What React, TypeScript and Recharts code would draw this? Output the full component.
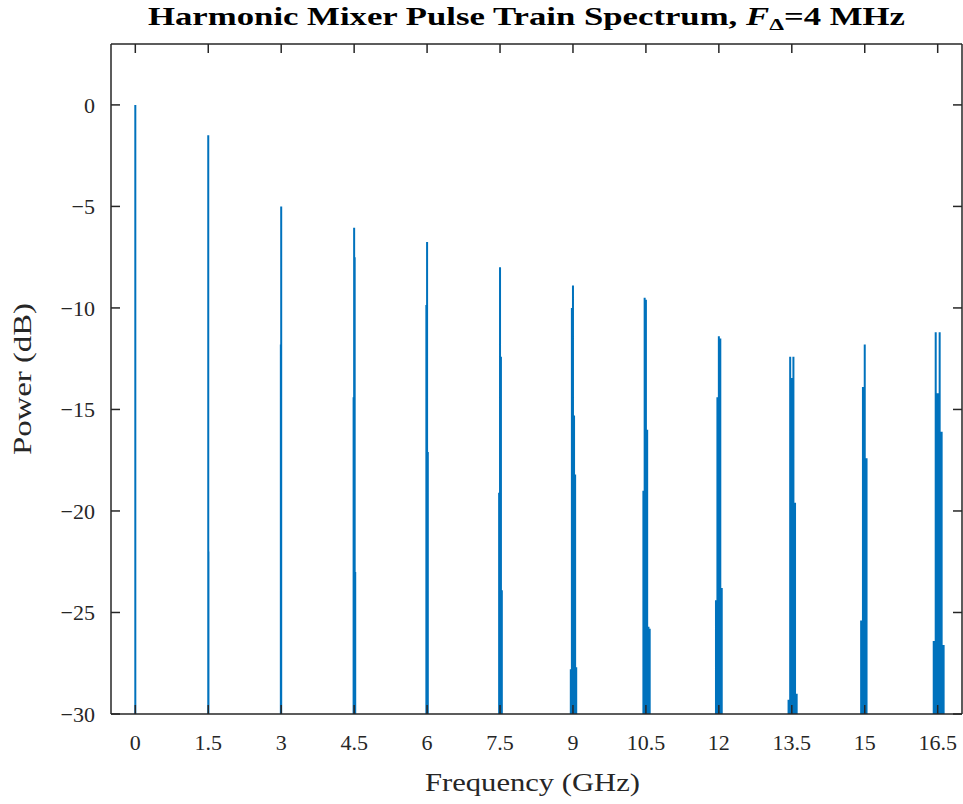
import React from 'react';
import { LineChart, Line, XAxis, YAxis } from 'recharts';

// harmonic centre frequencies (GHz)
const harmonicGHz = [0, 1.5, 3, 4.5, 6, 7.5, 9, 10.5, 12, 13.5, 15, 16.5];
// sideband index k, spaced k * n * step around the n-th harmonic
const sidebandK = [-3, -2, -1, 0, 1, 2, 3];
const sidebandStepMHz = 3.7;

// sideband levels in dB, one value per harmonic (null = below -30 dB)
const levelKm3 = [null, null, null, null, null, null, null, null, null, null, null, null];
const levelKm2 = [null, null, null, null, null, null, -27.8, -19.0, -24.4, -29.3, -25.4, -26.4];
const levelKm1 = [null, null, -11.8, -14.4, -9.85, -19.1, -10.0, -9.5, -14.4, -12.4, -13.9, -11.2];
const levelK0 = [0, -1.5, -5.0, -6.05, -6.75, -8.0, -8.9, -9.6, -11.4, -13.45, -11.8, -14.2];
const levelKp1 = [null, -22.0, null, -7.5, -17.1, -12.4, -15.3, -16.0, -11.5, -12.4, -17.4, -11.2];
const levelKp2 = [null, null, null, -23.0, null, -23.9, -18.2, -25.7, -23.8, -19.6, null, -16.1];
const levelKp3 = [null, null, null, null, null, null, -27.7, -25.8, null, -29.0, null, -26.6];

const xTicks = [0, 1.5, 3, 4.5, 6, 7.5, 9, 10.5, 12, 13.5, 15, 16.5];
const yTicks = [0, -5, -10, -15, -20, -25, -30];

const FLOOR = -60;
const levelsByK = [levelKm3, levelKm2, levelKm1, levelK0, levelKp1, levelKp2, levelKp3];

const data: { f: number; p: number }[] = [];
harmonicGHz.forEach((f0, n) => {
  sidebandK.forEach((k, i) => {
    const lv = levelsByK[i][n];
    if (lv == null) return;
    const f = f0 + (k * n * sidebandStepMHz) / 1000;
    data.push({ f, p: FLOOR }, { f, p: lv }, { f, p: FLOOR });
  });
});

const axisColor = '#262626';
const font = '"Liberation Serif", "Times New Roman", serif';
const xDomain: [number, number] = [-0.5, 17];
const yDomain: [number, number] = [-30, 3];
const TICK = 9;

const fmtY = (v: number) => (v < 0 ? '\u2212' + Math.abs(v) : String(v));

// MATLAB-style ticks: short marks pointing into the plot, labels outside
const BottomTick = ({ x, y, payload }: any) => (
  <g>
    <line x1={x} y1={y} x2={x} y2={y - TICK} stroke={axisColor} strokeWidth={1.5} />
    <text x={x} y={y + 36} textAnchor="middle" fontSize={22} fontFamily={font} fill={axisColor}>
      {payload.value}
    </text>
  </g>
);
const TopTick = ({ x, y }: any) => (
  <line x1={x} y1={y} x2={x} y2={y + TICK} stroke={axisColor} strokeWidth={1.5} />
);
const LeftTick = ({ x, y, payload }: any) => (
  <g>
    <line x1={x} y1={y} x2={x + TICK} y2={y} stroke={axisColor} strokeWidth={1.5} />
    <text x={x - 16} y={y} dy="0.35em" textAnchor="end" fontSize={22} fontFamily={font} fill={axisColor}>
      {fmtY(payload.value)}
    </text>
  </g>
);
const RightTick = ({ x, y }: any) => (
  <line x1={x} y1={y} x2={x - TICK} y2={y} stroke={axisColor} strokeWidth={1.5} />
);

export default function App() {
  return (
    <div style={{ position: 'absolute', left: 0, top: 0, width: 963, height: 804, background: '#fff' }}>
      <LineChart width={963} height={804} data={data} margin={{ top: 43, right: 0, bottom: 0, left: 0 }}>
        <XAxis
          xAxisId="b"
          dataKey="f"
          type="number"
          domain={xDomain}
          ticks={xTicks}
          interval={0}
          allowDataOverflow
          height={90}
          tickSize={0}
          tickMargin={0}
          tick={BottomTick}
          tickLine={false}
          stroke={axisColor}
          strokeWidth={1.5}
        />
        <XAxis
          xAxisId="t"
          dataKey="f"
          type="number"
          orientation="top"
          domain={xDomain}
          ticks={xTicks}
          interval={0}
          allowDataOverflow
          height={1}
          tickSize={0}
          tickMargin={0}
          tick={TopTick}
          tickLine={false}
          stroke={axisColor}
          strokeWidth={1.5}
        />
        <YAxis
          yAxisId="l"
          type="number"
          domain={yDomain}
          ticks={yTicks}
          interval={0}
          allowDataOverflow
          width={111}
          tickSize={0}
          tickMargin={0}
          tick={LeftTick}
          tickLine={false}
          stroke={axisColor}
          strokeWidth={1.5}
        />
        <YAxis
          yAxisId="r"
          type="number"
          orientation="right"
          domain={yDomain}
          ticks={yTicks}
          interval={0}
          allowDataOverflow
          width={1}
          tickSize={0}
          tickMargin={0}
          tick={RightTick}
          tickLine={false}
          stroke={axisColor}
          strokeWidth={1.5}
        />
        <Line
          xAxisId="b"
          yAxisId="l"
          dataKey="p"
          type="linear"
          stroke="#0072BD"
          strokeWidth={2}
          dot={false}
          activeDot={false}
          isAnimationActive={false}
        />
      </LineChart>
      <svg width={963} height={804} style={{ position: 'absolute', left: 0, top: 0, pointerEvents: 'none' }}>
        <text x={148} y={25} fontFamily={font} fontSize={25} fontWeight="bold" fill="#000" textLength={757} lengthAdjust="spacingAndGlyphs">
          Harmonic Mixer Pulse Train Spectrum, <tspan fontStyle="italic">F</tspan>
          <tspan fontSize={17} dy={5}>Δ</tspan>
          <tspan dy={-5}>=4 MHz</tspan>
        </text>
        <text x={425} y={791} fontFamily={font} fontSize={25} fill={axisColor} textLength={215} lengthAdjust="spacingAndGlyphs">
          Frequency (GHz)
        </text>
        <text
          x={0}
          y={0}
          transform="translate(31 455) rotate(-90)"
          fontFamily={font}
          fontSize={25}
          fill={axisColor}
          textLength={152}
          lengthAdjust="spacingAndGlyphs"
        >
          Power (dB)
        </text>
      </svg>
    </div>
  );
}
